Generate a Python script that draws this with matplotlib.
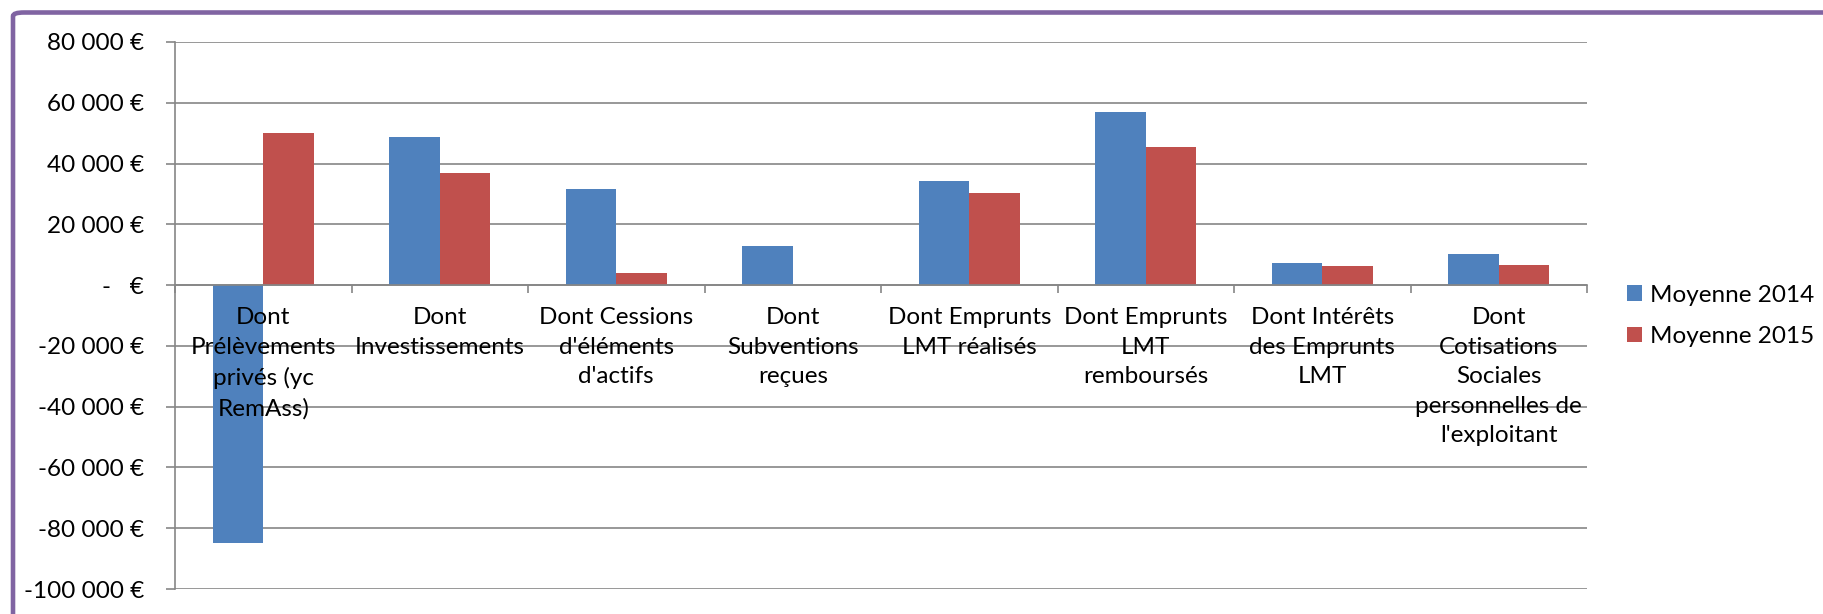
import matplotlib.pyplot as plt
import numpy as np
from matplotlib.patches import FancyBboxPatch
from matplotlib.ticker import FuncFormatter, FixedLocator

plt.rcParams['font.family'] = ['Lato', 'DejaVu Sans']

# données
categories = [
    "Dont\nPrélèvements\nprivés (yc\nRemAss)",
    "Dont\nInvestissements",
    "Dont Cessions\nd'éléments\nd'actifs",
    "Dont\nSubventions\nreçues",
    "Dont Emprunts\nLMT réalisés",
    "Dont Emprunts\nLMT\nremboursés",
    "Dont Intérêts\ndes Emprunts\nLMT",
    "Dont\nCotisations\nSociales\npersonnelles de\nl'exploitant",
]
moyenne_2014 = [-85000, 48760, 31670, 12950, 34380, 56900, 7140, 10400]
moyenne_2015 = [50180, 36760, 4030, 200, 30400, 45450, 6380, 6710]
series_names = ["Moyenne 2014", "Moyenne 2015"]
y_ticks = [-100000, -80000, -60000, -40000, -20000, 0, 20000, 40000, 60000, 80000]

BLUE = '#4F81BD'
RED = '#C0504D'
GRID = '#868686'
FS = 17.5

fig = plt.figure(figsize=(18.24, 6.14), dpi=100)
ax = fig.add_axes([175 / 1824, 1 - 589 / 614, (1587 - 175) / 1824, (589 - 42) / 614])

x = np.arange(len(categories))
w = 1 / 3.5
ax.bar(x - w / 2, moyenne_2014, width=w, color=BLUE, label=series_names[0], zorder=2)
ax.bar(x + w / 2, moyenne_2015, width=w, color=RED, label=series_names[1], zorder=2)

# quadrillage sous les barres, étiquettes des axes au-dessus
for yv in y_ticks:
    ax.axhline(yv, color=GRID, linewidth=1.2, zorder=0.5)
ax.set_axisbelow(False)

ax.set_xlim(-0.5, len(categories) - 0.5)
ax.set_ylim(y_ticks[0], y_ticks[-1])
ax.set_yticks(y_ticks)


def euros(v, pos):
    if v == 0:
        return "-   €"
    return f"{int(v):,}".replace(",", " ") + " €"


ax.yaxis.set_major_formatter(FuncFormatter(euros))
ax.tick_params(axis='y', length=6.5, width=1.2, color=GRID, pad=16, labelsize=FS)

# axe des catégories sur la ligne du zéro
ax.spines['bottom'].set_position(('data', 0))
ax.spines['bottom'].set_color(GRID)
ax.spines['bottom'].set_linewidth(1.2)
ax.spines['left'].set_color(GRID)
ax.spines['left'].set_linewidth(1.2)
ax.spines['top'].set_visible(False)
ax.spines['right'].set_visible(False)

ax.xaxis.set_major_locator(FixedLocator(np.arange(-0.5, len(categories), 1)))
ax.xaxis.set_major_formatter(plt.NullFormatter())
ax.xaxis.set_minor_locator(FixedLocator(x))
ax.set_xticklabels(categories, minor=True)
ax.tick_params(axis='x', which='major', length=6, width=1.2, color=GRID)
ax.tick_params(axis='x', which='minor', length=0, pad=16, labelsize=FS)
for lab in ax.get_xticklabels(minor=True):
    lab.set_linespacing(1.5)

fig.legend(loc='center left', bbox_to_anchor=(1627 / 1824, 1 - 316 / 614),
           frameon=False, fontsize=FS, handlelength=0.6, handleheight=0.6,
           handletextpad=0.35, labelspacing=0.85, borderpad=0, borderaxespad=0)

# cadre violet
cadre = FancyBboxPatch((13 / 1824, -0.1), 1.2, 1 - 12.5 / 614 + 0.1,
                       boxstyle="round,pad=0,rounding_size=0.006",
                       transform=fig.transFigure, fill=False,
                       edgecolor='#8064A2', linewidth=3.3, clip_on=False)
fig.patches.append(cadre)

fig.savefig('out.png', dpi=100)
